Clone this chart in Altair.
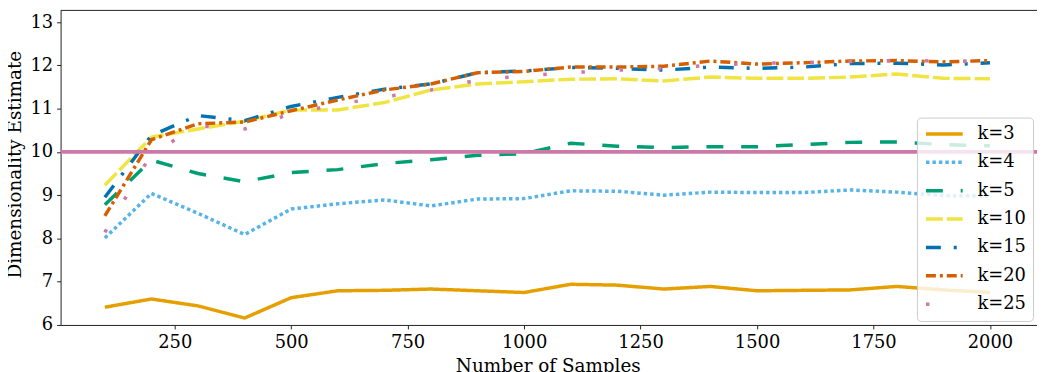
import altair as alt
import pandas as pd

xs = list(range(100, 2001, 100))
names = ["k=3", "k=4", "k=5", "k=10", "k=15", "k=20", "k=25"]
k3 = [6.41, 6.60, 6.44, 6.16, 6.63, 6.79, 6.80, 6.83, 6.79, 6.75, 6.94, 6.92, 6.83, 6.89, 6.79, 6.80, 6.81, 6.89, 6.81, 6.75]
k4 = [8.01, 9.04, 8.58, 8.09, 8.68, 8.80, 8.89, 8.75, 8.91, 8.92, 9.10, 9.09, 9.00, 9.07, 9.06, 9.06, 9.12, 9.07, 8.99, 8.98]
k5 = [8.78, 9.81, 9.50, 9.31, 9.52, 9.59, 9.73, 9.82, 9.92, 9.96, 10.20, 10.13, 10.10, 10.12, 10.12, 10.17, 10.22, 10.23, 10.17, 10.14]
k10 = [9.23, 10.34, 10.53, 10.71, 10.97, 10.97, 11.14, 11.43, 11.57, 11.62, 11.68, 11.69, 11.64, 11.73, 11.70, 11.70, 11.73, 11.80, 11.70, 11.69]
k15 = [8.95, 10.38, 10.84, 10.72, 11.05, 11.26, 11.45, 11.57, 11.83, 11.87, 11.95, 11.93, 11.89, 11.96, 11.93, 11.96, 12.04, 12.05, 12.01, 12.06]
k20 = [8.52, 10.28, 10.65, 10.69, 10.95, 11.20, 11.43, 11.57, 11.83, 11.86, 11.96, 11.96, 11.98, 12.10, 12.03, 12.06, 12.10, 12.11, 12.08, 12.11]
k25 = [8.14, 9.95, 10.60, 10.53, 10.88, 11.10, 11.27, 11.43, 11.66, 11.76, 11.83, 11.89, 11.93, 12.00, 12.05, 12.06, 12.09, 12.11, 12.10, 12.08]
series = [k3, k4, k5, k10, k15, k20, k25]
colors = ["#E69F00", "#56B4E9", "#009E73", "#F0E442", "#0072B2", "#D55E00", "#CC79A7"]
dashes = [[1, 0], [3.5, 3], [17, 18], [17, 4], [15, 13, 3, 13], [10, 4, 3, 4], [3.5, 35]]
x_ticks = [250, 500, 750, 1000, 1250, 1500, 1750, 2000]
y_ticks = [6, 7, 8, 9, 10, 11, 12, 13]
ref_value = 10

rows = []
for name, vals in zip(names, series):
    for x, v in zip(xs, vals):
        rows.append({"n": x, "est": v, "k": name})
df = pd.DataFrame(rows)

FONT = "DejaVu Serif"
W, H = 984, 317
LW = 3.5

legend = alt.Legend(
    orient="none", legendX=863, legendY=108, title=None,
    symbolType="M-1,0H4", symbolSize=219, symbolStrokeWidth=LW,
    labelFont=FONT, labelFontSize=18, labelColor="black", labelOffset=35,
    padding=7, rowPadding=9.6, fillColor="rgba(255,255,255,0.8)",
    strokeColor="#cccccc", cornerRadius=4,
)

x_enc = alt.X(
    "n:Q",
    scale=alt.Scale(domain=[5, 2101], nice=False, zero=False),
    axis=alt.Axis(values=x_ticks, format="d", title="Number of Samples", grid=False,
                  labelPadding=5,
                  titleY=46.7, titleX=491, titleBaseline="alphabetic", titleAlign="center"),
)
y_enc = alt.Y(
    "est:Q",
    scale=alt.Scale(domain=[6, 13.27], nice=False, zero=False),
    axis=alt.Axis(values=y_ticks, format="d", title="Dimensionality Estimate", grid=False,
                  labelPadding=4,
                  titleX=-40, titleY=155, titleAngle=-90, titleBaseline="alphabetic",
                  titleAlign="center"),
)

lines = alt.Chart(df).mark_line(strokeWidth=LW, strokeCap="butt").encode(
    x=x_enc, y=y_enc,
    color=alt.Color("k:N", scale=alt.Scale(domain=names, range=colors), legend=legend),
    strokeDash=alt.StrokeDash("k:N", scale=alt.Scale(domain=names, range=dashes), legend=legend),
    order=alt.Order("n:Q"),
)

hline = alt.Chart(pd.DataFrame({"v": [ref_value]})).mark_rule(
    color="#CC79A7", strokeWidth=4
).encode(y=alt.Y("v:Q"))

top_spine = alt.Chart(pd.DataFrame({"v": [0]})).mark_rule(
    color="#222222", strokeWidth=1
).encode(y=alt.value(0))

chart = alt.layer(lines, hline, top_spine).properties(
    width=W, height=H,
    padding={"left": 53, "top": 1, "right": 0, "bottom": 46},
    autosize=alt.AutoSizeParams(type="none"),
).configure_view(stroke=None).configure_axis(
    labelFont=FONT, labelFontSize=18, labelColor="black",
    titleFont=FONT, titleFontSize=18.5, titleColor="black", titleFontWeight="normal",
    tickSize=4, tickColor="#222222", domainColor="#222222",
)

chart.save("out.html", embed_options={"renderer": "svg", "actions": False})
